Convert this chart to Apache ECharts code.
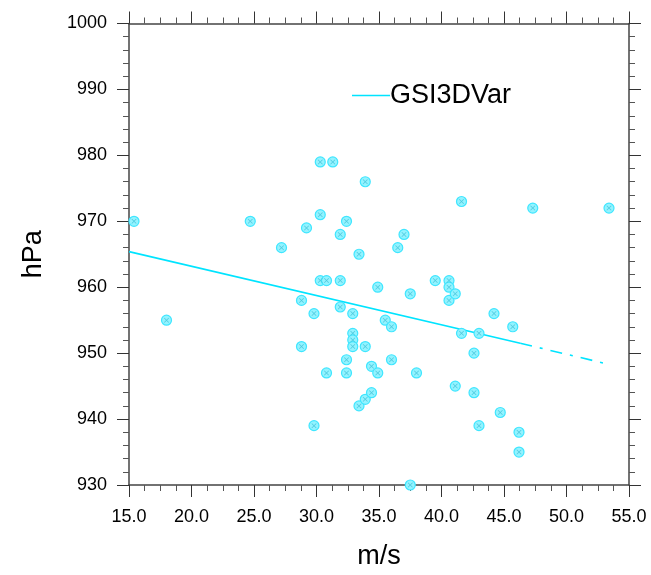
<!DOCTYPE html>
<html>
<head>
<meta charset="utf-8">
<script src="https://cdn.jsdelivr.net/npm/echarts@6/dist/echarts.min.js"></script>
<style>html,body{margin:0;padding:0;background:#fff}#c{width:651px;height:575px}</style>
</head>
<body>
<div id="c"></div>
<script>
// wind speed (m/s)
var windSpeed = [15.4, 18.0, 24.7, 27.2, 29.2, 28.8, 28.8, 29.8, 29.8, 30.3,
  31.3, 30.3, 30.3, 30.8, 30.8, 31.9, 31.9, 31.9, 32.4, 32.4,
  32.4, 32.9, 32.9, 32.9, 32.9, 33.4, 33.4, 33.9, 33.9, 33.9,
  34.4, 34.4, 34.9, 34.9, 35.5, 36.0, 36.0, 36.5, 37.0, 37.5,
  37.5, 38.0, 39.5, 40.6, 40.6, 40.6, 41.1, 41.1, 41.6, 41.6,
  42.6, 42.6, 43.0, 43.0, 44.2, 44.7, 45.7, 46.2, 46.2, 47.3, 53.4];
// minimum pressure (hPa)
var pressure = [970, 955, 970, 966, 969, 958, 951, 956, 939, 979,
  979, 971, 961, 961, 947, 968, 961, 957, 970, 949,
  947, 956, 953, 952, 951, 965, 942, 976, 951, 943,
  948, 944, 960, 947, 955, 954, 949, 966, 968, 959,
  930, 947, 961, 961, 960, 958, 959, 945, 973, 953,
  950, 944, 953, 939, 956, 941, 954, 938, 935, 972, 972];
// regression line
var fitSolidX = [15.0, 46.3];
var fitSolidY = [965.4, 951.5];
var fitDashX = [46.3, 53.4];
var fitDashY = [951.5, 948.3];
var xTicks = [15, 20, 25, 30, 35, 40, 45, 50, 55];
var yTicks = [930, 940, 950, 960, 970, 980, 990, 1000];

var FONT = '"Liberation Sans", Arial, sans-serif';
var CY = '#00e4ff';
function pairs(xs, ys) { return xs.map(function (x, i) { return [x, ys[i]]; }); }
var pts = pairs(windSpeed, pressure);

var axisLine = { show: true, lineStyle: { color: '#444', width: 1.5 } };
var tick = { show: true, inside: false, length: 12, lineStyle: { color: '#333', width: 1 } };
var mtick = { show: true, length: 6, lineStyle: { color: '#555', width: 1 } };

var chart = echarts.init(document.getElementById('c'), null, { renderer: 'canvas' });
chart.setOption({
  animation: false,
  backgroundColor: '#fff',
  grid: { left: 129, right: 22, top: 23.5, bottom: 85.5, containLabel: false },
  legend: {
    data: [{ name: 'GSI3DVar', icon: 'rect' }],
    left: 347, top: 77,
    itemWidth: 38, itemHeight: 1.5, itemGap: 0,
    textStyle: { fontFamily: FONT, fontSize: 27, color: '#000', padding: [0, 0, 0, -5] }
  },
  xAxis: [{
    type: 'value', min: xTicks[0], max: xTicks[xTicks.length - 1], interval: 5,
    position: 'bottom',
    name: 'm/s', nameLocation: 'middle', nameGap: 58,
    nameTextStyle: { fontFamily: FONT, fontSize: 27, color: '#000' },
    axisLine: axisLine, axisTick: tick,
    minorTick: Object.assign({ splitNumber: 4 }, mtick),
    splitLine: { show: false },
    axisLabel: { fontFamily: FONT, fontSize: 18, color: '#000', margin: 23,
      formatter: function (v) { return v.toFixed(1); } }
  }, {
    type: 'value', min: xTicks[0], max: xTicks[xTicks.length - 1], interval: 5,
    position: 'top',
    axisLine: axisLine, axisTick: tick,
    minorTick: Object.assign({ splitNumber: 4 }, mtick),
    splitLine: { show: false }, axisLabel: { show: false }
  }],
  yAxis: [{
    type: 'value', min: yTicks[0], max: yTicks[yTicks.length - 1], interval: 10,
    position: 'left',
    name: 'hPa', nameLocation: 'middle', nameGap: 82,
    nameTextStyle: { fontFamily: FONT, fontSize: 27, color: '#000' },
    axisLine: axisLine, axisTick: tick,
    minorTick: Object.assign({ splitNumber: 5 }, mtick),
    splitLine: { show: false },
    axisLabel: { fontFamily: FONT, fontSize: 18, color: '#000', margin: 22,
      formatter: function (v) { return String(v); } }
  }, {
    type: 'value', min: yTicks[0], max: yTicks[yTicks.length - 1], interval: 10,
    position: 'right',
    axisLine: axisLine, axisTick: tick,
    minorTick: Object.assign({ splitNumber: 5 }, mtick),
    splitLine: { show: false }, axisLabel: { show: false }
  }],
  series: [{
    type: 'scatter', name: 'pts', data: pts, symbol: 'circle', symbolSize: 10,
    itemStyle: { color: '#93f3ff', borderColor: '#3fe6ff', borderWidth: 1.2, opacity: 1 },
    z: 3
  }, {
    type: 'scatter', name: 'ptsx', data: pts,
    symbol: 'path://M0,1 L1,0 L5,4 L9,0 L10,1 L6,5 L10,9 L9,10 L5,6 L1,10 L0,9 L4,5 Z',
    symbolSize: 5,
    itemStyle: { color: '#4cc9de', opacity: 1 },
    z: 4
  }, {
    type: 'line', name: 'GSI3DVar', data: pairs(fitSolidX, fitSolidY),
    showSymbol: false, symbol: 'none',
    lineStyle: { color: CY, width: 1.6, type: 'solid' }, itemStyle: { color: CY },
    z: 2
  }, {
    type: 'line', name: 'fitdash', data: pairs(fitDashX, fitDashY),
    showSymbol: false, symbol: 'none',
    lineStyle: { color: CY, width: 1.6, type: [12, 8, 3, 8] }, itemStyle: { color: CY },
    z: 2
  }]
});
</script>
</body>
</html>
